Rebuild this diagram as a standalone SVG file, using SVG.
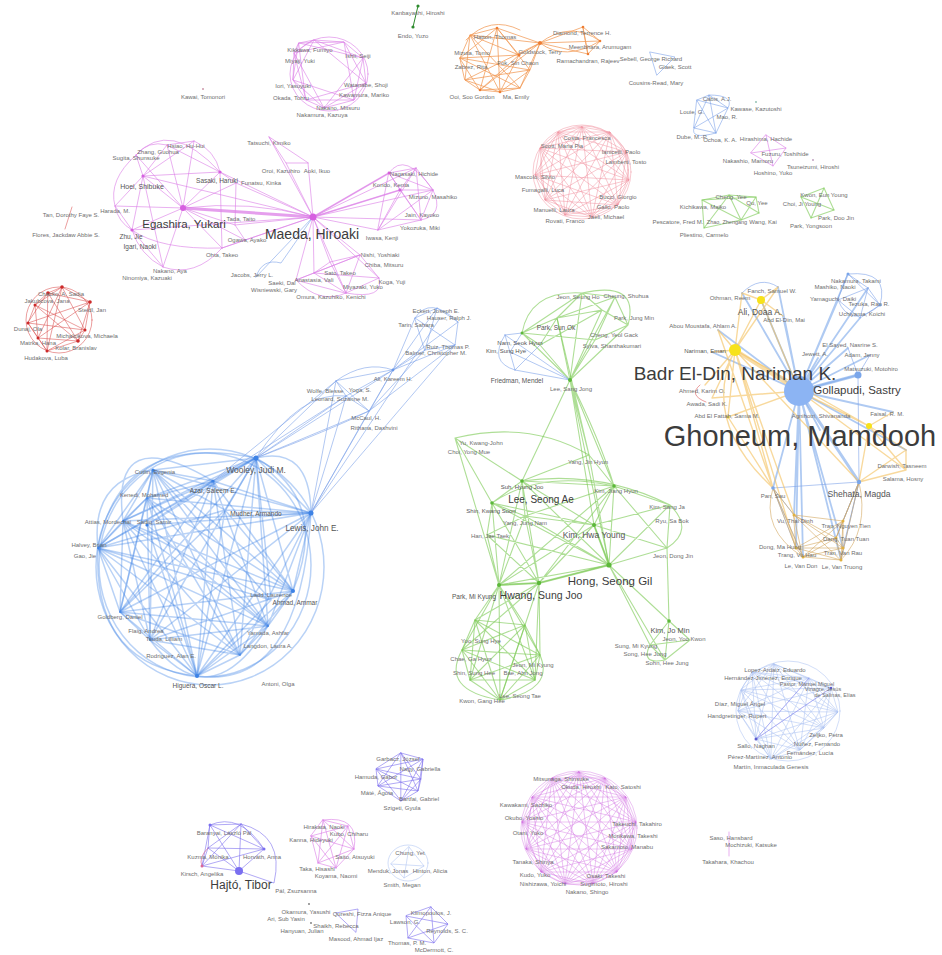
<svg xmlns="http://www.w3.org/2000/svg" width="942" height="955" viewBox="0 0 942 955">
<style>
.e{fill:none;stroke-linecap:round;stroke-linejoin:round}
.pk{stroke:#dc7fe7;stroke-opacity:.62;stroke-width:1}
.bl{stroke:#3d82e5;stroke-opacity:.36;stroke-width:1.5}
.lb{stroke:#7fa3ea;stroke-opacity:.6;stroke-width:1}
.xb{stroke:#aec3f3;stroke-opacity:.7;stroke-width:.8}
.gr{stroke:#78c850;stroke-opacity:.6;stroke-width:1.1}
.dg{stroke:#2e8b2e;stroke-width:1}
.or{stroke:#f29a55;stroke-opacity:.75;stroke-width:1}
.rd{stroke:#d94a4a;stroke-opacity:.6;stroke-width:.9}
.sa{stroke:#f0909f;stroke-opacity:.55;stroke-width:.9}
.pu{stroke:#7d70ee;stroke-opacity:.6;stroke-width:1}
.vi{stroke:#cf6ee2;stroke-opacity:.45;stroke-width:.9}
.ye{stroke:#f3c05c;stroke-opacity:.6;stroke-width:1.4}
.br{stroke:#d4a860;stroke-opacity:.6;stroke-width:1}
.gb{stroke:#7aa6ea;stroke-opacity:.6;stroke-width:1.8}
text{font-family:"Liberation Sans",Arial,sans-serif;text-anchor:middle;fill:#6e6e6e;font-size:6px}
.m{fill:#555}
.b{fill:#3c3c3c}
</style>
<rect width="942" height="955" fill="#fff"/>
<g id="edges">
<line class="e dg" x1="418" y1="6" x2="413" y2="27"/>
<polygon class="e or" points="460,58 470,35 497,28 540,43 530,70 520,88 500,92 480,90 465,80"/>
<polygon class="e or" points="460,58 497,28 530,70 500,92 465,80 470,35 540,43 520,88 480,90"/>
<polygon class="e or" points="460,58 530,70 465,80 540,43 480,90 497,28 500,92 470,35 520,88"/>
<path class="e or" d="M519,55 L460,58 M519,55 L470,35 M519,55 L497,28 M519,55 L540,43 M519,55 L500,92 M519,55 L480,90 M540,43 L583,27 M540,43 L600,41 M540,43 L588,54 M583,27 L600,41 L588,54 Z M583,27 L588,54 M540,43 Q570,20 600,41 M540,43 Q565,62 600,41 M466,40 Q490,15 520,30"/>
<polygon class="e lb" points="650,52 675,57 657,75"/>
<polygon class="e pk" points="299,43 314,40 344,42 363,58 366,83 354,100 324,108 306,100 293,80 294,53"/>
<polygon class="e pk" points="299,43 363,58 324,108 294,53 344,42 354,100 293,80 314,40 366,83 306,100"/>
<polygon class="e pk" points="299,43 344,42 366,83 324,108 293,80"/>
<polygon class="e pk" points="314,40 363,58 354,100 306,100 294,53"/>
<ellipse class="e pk" cx="329" cy="74" rx="39" ry="37"/>
<polygon class="e rd" points="48,293 62,287 90,302 85,330 78,341 47,351 38,338 28,323 35,305"/>
<polygon class="e rd" points="48,293 90,302 78,341 38,338 35,305 62,287 85,330 47,351 28,323"/>
<polygon class="e rd" points="48,293 78,341 35,305 85,330 28,323 90,302 38,338 62,287 47,351"/>
<ellipse class="e rd" cx="59" cy="320" rx="33" ry="33"/>
<line class="e rd" x1="72" y1="207" x2="65" y2="229"/>
<polygon class="e sa" points="582,127 610,132 627,152 629,180 618,205 592,217 565,215 545,200 535,175 540,148 558,132"/>
<polygon class="e sa" points="582,127 627,152 618,205 565,215 535,175 558,132 610,132 629,180 592,217 545,200 540,148"/>
<polygon class="e sa" points="582,127 629,180 565,215 540,148 610,132 618,205 545,200 558,132 627,152 592,217 535,175"/>
<polygon class="e sa" points="582,127 618,205 535,175 610,132 592,217 540,148 627,152 565,215 558,132 629,180 545,200"/>
<polygon class="e sa" points="582,127 592,217 558,132 618,205 540,148 629,180 535,175 627,152 545,200 610,132 565,215"/>
<ellipse class="e sa" cx="582" cy="172" rx="49" ry="47"/>
<ellipse class="e sa" cx="584" cy="170" rx="44" ry="44"/>
<polygon class="e lb" points="697,100 709,95 728,108 716,133 694,128"/>
<polygon class="e lb" points="697,100 728,108 694,128 709,95 716,133"/>
<path class="e lb" d="M709,95 Q735,95 728,108 M694,128 Q690,140 716,133"/>
<polygon class="e pk" points="766,135 786,148 773,166 751,153"/>
<path class="e pk" d="M766,135 L773,166 M751,153 L786,148"/>
<polygon class="e gr" points="702,200 729,195 756,197 759,213 741,220 704,228"/>
<path class="e gr" d="M729,195 L741,220 M756,197 L741,220 M729,195 L759,213 M702,200 L741,220 M704,228 L729,195 M702,200 L756,197"/>
<polygon class="e gr" points="801,197 824,188 834,210 811,218"/>
<path class="e gr" d="M801,197 L834,210 M824,188 L811,218"/>
<path class="e pk" d="M183,208 L143,176 M183,208 L167,145 M183,208 L136,155 M183,208 L220,172 M183,208 L236,183 M183,208 L115,206 M183,208 L132,230 M183,208 L163,267 M183,208 L222,248 M183,208 L235,225 M183,208 L245,240 M183,208 L194,141"/>
<path class="e pk" d="M136,155 Q148,140 167,145 L194,141 Q215,150 220,172 L236,183 M136,155 Q108,180 115,206 Q118,222 132,230 Q140,255 163,267 Q195,278 222,248 L245,240 L235,225 L236,183 M143,176 L167,145 M143,176 L220,172 M143,176 L115,206 M143,176 L132,230 M167,145 L220,172 M136,155 L143,176 M220,172 L222,248 M132,230 L163,267 M143,176 L163,267 M115,206 L132,230 M194,141 L143,176 M132,230 Q160,250 222,248 M136,155 Q170,118 220,172"/>
<path class="e pk" style="stroke-width:3;stroke-opacity:.75" d="M183,208 L313,217"/>
<path class="e pk" d="M220,172 L313,217 M236,183 L313,217 M235,225 L313,217 M245,240 L313,217 M222,248 L313,217 M143,176 L313,217 M183,208 Q250,200 313,217 M132,230 L313,217"/>
<path class="e pk" d="M269,137 L286,163 L308,163 Z M308,163 L313,217 M286,163 L313,217 M269,137 L313,217"/>
<path class="e pk" d="M313,217 L389,173 M313,217 L416,168 M313,217 L433,190 M313,217 L421,220 M313,217 L378,230 M313,217 L400,190 M313,217 L314,273 M313,217 L346,293 M313,217 L379,278 M313,217 L360,255 M313,217 L296,280 M313,217 L330,262"/>
<path class="e pk" style="stroke-width:1.8" d="M313,217 L400,190 M313,217 L389,173"/>
<path class="e pk" d="M389,173 L416,168 L433,190 L421,220 L378,230 Z M389,173 L433,190 M389,173 L421,220 M416,168 L421,220 M416,168 L378,230 M433,190 L378,230 M400,190 L389,173 M400,190 L416,168 M400,190 L433,190 M400,190 L421,220 M400,190 L378,230 M389,173 Q405,150 433,190 M433,190 Q445,215 421,220"/>
<path class="e pk" d="M296,280 L314,273 L330,262 L360,255 L379,278 L346,293 Z M314,273 L346,293 M314,273 L379,278 M330,262 L346,293 M360,255 L346,293 M296,280 L360,255 M296,280 Q320,305 346,293 M379,278 Q385,300 346,293 M360,255 L314,273"/>
<path class="e lb" d="M256,277 Q262,258 281,263 L313,217 M256,277 L313,217"/>
<polygon class="e bl" points="256,458 311,513 293,591 268,626 240,655 197,676 150,640 120,612 98,548 123,521 147,498 153,470 213,481"/>
<polygon class="e bl" points="256,458 293,591 240,655 150,640 98,548 147,498 213,481 311,513 268,626 197,676 120,612 123,521 153,470"/>
<polygon class="e bl" points="256,458 268,626 150,640 123,521 213,481 293,591 197,676 98,548 153,470 311,513 240,655 120,612 147,498"/>
<polygon class="e bl" points="256,458 240,655 98,548 213,481 268,626 120,612 153,470 293,591 150,640 147,498 311,513 197,676 123,521"/>
<polygon class="e bl" points="256,458 197,676 147,498 293,591 120,612 213,481 240,655 123,521 311,513 150,640 153,470 268,626 98,548"/>
<polygon class="e bl" points="256,458 150,640 213,481 197,676 153,470 240,655 147,498 268,626 123,521 293,591 98,548 311,513 120,612"/>
<path class="e bl" d="M225,510 L256,458 M225,510 L311,513 M225,510 L293,591 M225,510 L197,676 M225,510 L120,612 M225,510 L153,470 M225,510 L98,548 M147,525 L256,458 M147,525 L311,513 M147,525 L268,626 M147,525 L197,676 M147,525 L213,481 M271,600 L256,458 M271,600 L153,470 M271,600 L98,548 M271,600 L197,676 M271,600 L123,521"/>
<path class="e bl" d="M256,458 Q120,430 98,548 M98,548 Q92,665 197,676 M197,676 Q300,690 311,513 M311,513 Q310,445 256,458 M153,470 Q90,480 98,548 M256,458 Q330,500 293,591 M150,640 Q210,720 268,626 M213,481 Q110,420 123,521"/>
<ellipse class="e bl" cx="210" cy="567" rx="114" ry="118"/>
<ellipse class="e bl" cx="205" cy="565" rx="106" ry="112"/>
<path class="e lb" d="M256,458 L336,381 M256,458 L346,396 M256,458 L369,411 M256,458 L393,370 M311,513 L336,381 M311,513 L369,411 M311,513 L393,370 M311,513 L440,318 M311,513 L455,345 M213,481 L336,381 M213,481 L346,396 M256,458 Q300,390 346,396 M336,381 L346,396 L369,411 L393,370 Z M346,396 L393,370 M336,381 L369,411 M336,381 Q365,360 393,370 M393,370 L415,318 M393,370 L437,308 M393,370 L458,322 M393,370 L455,345 M393,370 L425,350 M369,411 L425,350 M369,411 L455,345 M415,318 L437,308 L458,322 L455,345 L425,350 Z M415,318 L455,345 M437,308 L425,350 M415,318 Q430,295 458,322 M256,458 Q330,430 369,411 M311,513 Q340,420 346,396"/>
<path class="e gr" d="M570,380 L522,333 M570,380 L557,318 M570,380 L582,293 M570,380 L615,297 M570,380 L602,310 M570,380 L628,325 M570,380 L540,345 M570,380 L595,340 M522,333 L557,318 L582,293 L615,297 L628,325 L602,310 L582,293 M522,333 L582,293 M557,318 L615,297 M540,345 L557,318 M595,340 L615,297 M595,340 L628,325 M522,333 L540,345 M557,318 L602,310 M522,333 Q530,290 582,293 M582,293 Q640,280 628,325 M540,345 L602,310 M522,333 L595,340"/>
<path class="e lb" d="M505,335 L570,380 M510,352 L570,380 M515,370 L570,380 M505,335 L515,370 M505,335 Q488,362 515,370 M510,352 L522,333 M505,335 L522,333 M515,370 L540,345"/>
<path class="e gr" d="M570,380 L589,455 M570,380 L614,486 M570,380 L609,565 M570,380 L522,481 M557,318 L589,455 M570,380 L594,525 M570,380 Q600,440 614,486"/>
<path class="e gr" d="M609,565 L522,481 M609,565 L492,503 M609,565 L525,516 M609,565 L594,525 M609,565 L614,486 M609,565 L539,583 M609,565 L499,585 M609,565 L670,505 M609,565 L667,548 M609,565 L487,535 M609,565 L669,621 M609,565 L589,455 M594,525 L522,481 M594,525 L492,503 M594,525 L525,516 M594,525 L614,486 M594,525 L539,583 M594,525 L499,585 M594,525 L670,505 M594,525 L667,548 M522,481 L492,503 M522,481 L525,516 M522,481 L614,486 M522,481 L539,583 M522,481 L499,585 M522,481 L589,455 M522,481 L455,438 M492,503 L525,516 M492,503 L499,585 M492,503 L455,438 M492,503 L487,535 M492,503 L539,583 M525,516 L539,583 M525,516 L499,585 M525,516 L487,535 M525,516 L614,486 M614,486 L670,505 M614,486 L667,548 M614,486 L589,455 M539,583 L499,585 M539,583 L487,535 M499,585 L487,535 M499,585 L455,438 M670,505 L667,548 M455,438 Q530,420 589,455 M522,481 Q600,470 670,505 M670,505 Q695,530 667,548 M492,503 Q540,470 614,486 M499,585 L614,486 M539,583 L614,486"/>
<path class="e gr" style="stroke-width:2" d="M609,565 L539,583 L499,585 M594,525 L609,565"/>
<polygon class="e gr" points="475,620 462,650 470,680 500,700 535,680 540,655 525,625"/>
<polygon class="e gr" points="475,620 470,680 535,680 525,625 462,650 500,700 540,655"/>
<polygon class="e gr" points="475,620 500,700 525,625 470,680 540,655 462,650 535,680"/>
<path class="e gr" d="M499,585 L475,620 M499,585 L462,650 M499,585 L470,680 M499,585 L500,700 M499,585 L535,680 M499,585 L540,655 M499,585 L525,625 M539,583 L475,620 M539,583 L462,650 M539,583 L500,700 M539,583 L540,655 M539,583 L525,625 M539,583 L535,680 M462,650 Q440,690 500,700 M540,655 Q555,690 500,700"/>
<path class="e gr" d="M669,621 L650,645 L665,660 L690,640 Z M669,621 L665,660 M650,645 L690,640 M609,565 L650,645 M609,565 L665,660 M667,548 L669,621 M650,645 Q640,665 665,660"/>
<path class="e gb" d="M799,391 L858,375 M799,391 L848,274 M799,391 L868,288 M799,391 L860,318 M799,391 L838,300 M799,391 L848,348 M799,391 L870,355 M799,391 L773,488 M799,391 L794,515 M799,391 L796,548 M799,391 L843,548 M799,391 L841,560 M799,391 L761,300 M799,391 L783,316 M799,391 L818,358 M799,391 L893,412 M799,391 L820,430 M799,391 L718,330 M799,391 L712,352 M799,391 L742,293 M799,391 L778,287 M799,391 L906,450 M799,391 L803,557"/>
<path class="e gb" style="stroke-width:3" d="M799,391 L859,482 M799,391 L858,375"/>
<path class="e lb" d="M848,274 L868,288 L880,305 L860,318 L838,300 Z M848,274 L880,305 M868,288 L860,318 M838,300 L868,288 M848,274 Q890,270 880,305 M838,300 Q850,330 880,305 M742,293 Q760,275 778,287 M859,482 L773,488 M859,482 L843,521 M859,482 L836,538 M859,482 L843,548 M859,482 L841,560 M773,488 L794,515 M773,488 L796,548 M773,488 L803,557 M858,375 L859,482 M858,375 L848,348 M858,375 L870,355"/>
<path class="e ye" style="stroke-width:4;stroke-opacity:.55" d="M735,350 L799,391"/>
<path class="e ye" d="M735,350 L761,300 M735,350 L742,293 M735,350 L778,287 M735,350 L718,330 M735,350 L712,352 M735,350 L705,385 M735,350 L712,398 M735,350 L728,417 M735,350 L773,488 M735,350 L794,515 M735,350 L796,548 M735,350 L859,482 M735,350 L869,426 M761,300 L742,293 M761,300 L778,287 M761,300 L783,316 M761,300 L799,391 M869,426 L799,391 M869,426 L906,450 M869,426 L906,470 M869,426 L859,482 M893,412 L869,426 M906,450 L906,470 M799,391 L906,470 M728,417 L773,488 M718,330 L773,488 M799,391 L728,417 M712,398 L799,391 M735,350 Q700,420 773,488 M859,482 L906,470 M859,482 L906,450"/>
<polygon class="e br" points="794,515 843,521 836,538 843,548 841,560 803,557 796,548"/>
<polygon class="e br" points="794,515 836,538 841,560 796,548 843,521 843,548 803,557"/>
<polygon class="e br" points="794,515 843,548 796,548 836,538 803,557 843,521 841,560"/>
<path class="e br" d="M773,488 L794,515 M773,488 L796,548 M773,488 L803,557 M859,482 L843,521 M859,482 L836,538 M859,482 L841,560 M773,488 Q760,530 803,557 M859,482 Q870,530 841,560"/>
<path class="e rd" d="M700,385 Q688,395 706,402"/>
<polygon class="e pu" points="210,825 241,824 264,849 239,871 202,866 208,848"/>
<path class="e pu" d="M210,825 L264,849 M210,825 L239,871 M210,825 L202,866 M241,824 L239,871 M241,824 L202,866 M241,824 L208,848 M264,849 L202,866 M264,849 L208,848 M239,871 L208,848 M241,824 Q285,835 274,883 L239,871 M210,825 Q240,812 264,849"/>
<path class="e" style="stroke:#d9679a;stroke-opacity:.7" d="M208,848 Q198,858 202,866"/>
<polygon class="e pk" points="323,820 348,826 354,849 336,868 318,863 311,836"/>
<path class="e pk" d="M323,820 L354,849 M323,820 L336,868 M323,820 L318,863 M348,826 L336,868 M348,826 L318,863 M348,826 L311,836 M354,849 L318,863 M354,849 L311,836 M336,868 L311,836 M323,820 Q360,815 354,849"/>
<polygon class="e pu" points="401,753 423,759 421,779 418,791 401,801 378,786 376,769"/>
<polygon class="e pu" points="401,753 421,779 401,801 376,769 423,759 418,791 378,786"/>
<polygon class="e pu" points="401,753 418,791 376,769 421,779 378,786 423,759 401,801"/>
<polygon class="e xb" points="409,847 424,866 404,878 391,864"/>
<path class="e xb" d="M409,847 L404,878 M391,864 L424,866"/>
<ellipse class="e xb" cx="408" cy="863" rx="20" ry="18"/>
<polygon class="e pu" points="336,913 358,909 356,932"/>
<polygon class="e pu" points="431,907 448,924 434,943 408,938 406,916"/>
<polygon class="e pu" points="431,907 434,943 406,916 448,924 408,938"/>
<polygon class="e vi" points="579,772 605,778 626,797 636,822 632,849 617,872 593,884 565,884 541,872 526,849 522,822 532,797 552,778"/>
<polygon class="e vi" points="579,772 626,797 632,849 593,884 541,872 522,822 552,778 605,778 636,822 617,872 565,884 526,849 532,797"/>
<polygon class="e vi" points="579,772 636,822 593,884 526,849 552,778 626,797 617,872 541,872 532,797 605,778 632,849 565,884 522,822"/>
<polygon class="e vi" points="579,772 632,849 541,872 552,778 636,822 565,884 532,797 626,797 593,884 522,822 605,778 617,872 526,849"/>
<polygon class="e vi" points="579,772 617,872 522,822 626,797 565,884 552,778 632,849 526,849 605,778 593,884 532,797 636,822 541,872"/>
<polygon class="e vi" points="579,772 593,884 552,778 617,872 532,797 632,849 522,822 636,822 526,849 626,797 541,872 605,778 565,884"/>
<ellipse class="e vi" cx="579" cy="828" rx="58" ry="57"/>
<ellipse class="e vi" cx="580" cy="829" rx="53" ry="53"/>
<polygon class="e xb" points="774,664 809,678 831,688 838,712 824,728 800,750 771,759 756,739 738,711 741,690 752,672"/>
<polygon class="e xb" points="774,664 831,688 824,728 771,759 738,711 752,672 809,678 838,712 800,750 756,739 741,690"/>
<polygon class="e xb" points="774,664 838,712 771,759 741,690 809,678 824,728 756,739 752,672 831,688 800,750 738,711"/>
<polygon class="e xb" points="774,664 824,728 738,711 809,678 800,750 741,690 831,688 771,759 752,672 838,712 756,739"/>
<polygon class="e xb" points="774,664 800,750 752,672 824,728 741,690 838,712 738,711 831,688 756,739 809,678 771,759"/>
<ellipse class="e xb" cx="788" cy="711" rx="52" ry="50"/>
<path class="e pu" style="stroke-opacity:.45" d="M756,739 L831,688 M756,739 L809,678"/>
<line class="e pk" x1="729" y1="832" x2="729" y2="856"/>
</g>
<g id="nodes">
<g id="c-kanbayashi"><circle cx="418" cy="6" r="1.6" fill="#2e8b2e"/><circle cx="413" cy="27" r="1.6" fill="#2e8b2e"/>
<g id="n-kanbayashi"><text x="418" y="15">Kanbayashi, Hiroshi</text></g><g id="n-endo"><text x="413" y="38">Endo, Yuzo</text></g></g>
<g id="c-orange" fill="#ee7d33">
<circle cx="540" cy="43" r="2"/><circle cx="519" cy="55" r="1.5"/><circle cx="583" cy="27" r="1.3"/><circle cx="600" cy="41" r="1.3"/><circle cx="588" cy="54" r="1.3"/><circle cx="497" cy="28" r="1.3"/><circle cx="480" cy="90" r="1.3"/><circle cx="500" cy="92" r="1.3"/>
<g id="n-o1"><text x="495" y="39">Hatton, Thomas</text></g><g id="n-o2"><text x="472" y="55">Mizuta, Tomo</text></g><g id="n-o3"><text x="471" y="69">Zabrez, Rita</text></g><g id="n-o4"><text x="540" y="54">Goldstock, Terry</text></g><g id="n-o5"><text x="518" y="65">Fok, Sin Chaon</text></g><g id="n-o6"><text x="472" y="99">Ooi, Soo Gordon</text></g><g id="n-o7"><text x="516" y="99">Ma, Emily</text></g><g id="n-o8"><text x="582" y="35">Diamond, Terrence H.</text></g><g id="n-o9"><text x="600" y="49">Meenbhara, Arumugam</text></g><g id="n-o10"><text x="588" y="63">Ramachandran, Rajeev</text></g>
</g>
<g id="c-sebell"><g id="n-se1"><text x="651" y="61">Sebell, George Richard</text></g><g id="n-se2"><text x="675" y="69">Glaek, Scott</text></g><g id="n-se3"><text x="656" y="85">Cousins-Read, Mary</text></g></g>
<g id="c-pinktop"><g id="n-p1"><text x="310" y="52">Kikkawa, Fumiyo</text></g><g id="n-p2"><text x="358" y="58">Ishii, Seiji</text></g><g id="n-p3"><text x="300" y="63">Miyaji, Yuki</text></g><g id="n-p4"><text x="293" y="88">Iori, Yasuyuki</text></g><g id="n-p5"><text x="291" y="100">Okada, Tohru</text></g><g id="n-p6"><text x="366" y="87">Watanabe, Shoji</text></g><g id="n-p7"><text x="364" y="97">Kawamura, Mariko</text></g><g id="n-p8"><text x="322" y="117">Nakamura, Kazuya</text></g><g id="n-p9"><text x="338" y="110">Nakano, Mitsuru</text></g></g>
<g id="n-kawai"><circle cx="203" cy="89" r="1" fill="#c9a"/><text x="203" y="99">Kawai, Tomonori</text></g>
<g id="c-egashira">
<circle cx="183" cy="208" r="3" fill="#d660e0"/><circle cx="313" cy="217" r="3.5" fill="#d660e0"/><circle cx="143" cy="176" r="1.6" fill="#d660e0"/><circle cx="220" cy="172" r="1.6" fill="#d660e0"/><circle cx="132" cy="230" r="1.6" fill="#d660e0"/><circle cx="400" cy="190" r="1.6" fill="#d660e0"/><circle cx="389" cy="173" r="1.4" fill="#d660e0"/>
<g id="n-egashira"><text class="b" x="184" y="228" style="font-size:11.5px">Egashira, Yukari</text></g>
<g id="n-maeda"><text class="b" x="312" y="239" style="font-size:14px">Maeda, Hiroaki</text></g>
<g id="n-e1"><text class="m" x="142" y="189" style="font-size:7px">Hoei, Shibuke</text></g><g id="n-e2"><text x="136" y="160">Sugita, Shunsuke</text></g><g id="n-e3"><text x="158" y="154">Zhang, Guohua</text></g><g id="n-e4"><text x="186" y="148">Hsiao, Hu-Hui</text></g><g id="n-e5"><text class="m" x="217" y="183" style="font-size:6.5px">Sasaki, Haruki</text></g><g id="n-e6"><text x="261" y="185">Funatsu, Kinka</text></g><g id="n-e7"><text x="115" y="213">Harada, M.</text></g><g id="n-e8"><text class="m" x="131" y="239" style="font-size:6.5px">Zhu, Jie</text></g><g id="n-e9"><text class="m" x="140" y="249" style="font-size:6.5px">Igari, Naoki</text></g><g id="n-e10"><text x="222" y="257">Ohta, Takeo</text></g><g id="n-e11"><text x="147" y="280">Ninomiya, Kazuaki</text></g><g id="n-e12"><text x="170" y="273">Nakano, Aya</text></g><g id="n-e13"><text x="241" y="221">Tada, Taito</text></g><g id="n-e14"><text x="247" y="242">Ogawa, Ayako</text></g>
<g id="n-m1"><text x="269" y="145">Tatsuchi, Kimiko</text></g><g id="n-m2"><text x="281" y="173">Oroi, Kazuhiro</text></g><g id="n-m3"><text x="317" y="173">Aoki, Ikuo</text></g><g id="n-m4"><text x="414" y="176">Nagasaki, Hichide</text></g><g id="n-m5"><text x="391" y="187">Kondo, Kenta</text></g><g id="n-m6"><text x="433" y="199">Mizuno, Masahiko</text></g><g id="n-m7"><text x="422" y="217">Jain, Kayoko</text></g><g id="n-m8"><text x="420" y="230">Yokozuka, Miki</text></g><g id="n-m9"><text x="382" y="240">Iwasa, Kenji</text></g><g id="n-m10"><text x="380" y="257">Nishi, Yoshiaki</text></g><g id="n-m11"><text x="384" y="267">Chiba, Mitsuru</text></g><g id="n-m12"><text x="392" y="284">Koga, Yuji</text></g><g id="n-m13"><text x="363" y="289">Miyazaki, Yuko</text></g><g id="n-m14"><text x="340" y="275">Sato, Takeo</text></g><g id="n-m15"><text x="314" y="282">Anastasia, Vali</text></g><g id="n-m16"><text x="282" y="285">Saeki, Dai</text></g><g id="n-m17"><text x="252" y="277">Jacobs, Jerry L.</text></g><g id="n-m18"><text x="274" y="292">Wisniewski, Gary</text></g><g id="n-m19"><text x="331" y="299">Omura, Kazuhiko, Kenichi</text></g>
<g id="n-tan"><text x="71" y="217">Tan, Dorothy Faye S.</text></g><g id="n-flores"><text x="66" y="237">Flores, Jackdaw Abbie S.</text></g>
</g>
<g id="c-red" fill="#cc2a2a">
<circle cx="48" cy="293" r="1.8"/><circle cx="62" cy="287" r="1.8"/><circle cx="90" cy="302" r="1.8"/><circle cx="85" cy="330" r="1.5"/><circle cx="78" cy="341" r="1.8"/><circle cx="47" cy="351" r="1.5"/><circle cx="38" cy="338" r="1.5"/><circle cx="28" cy="323" r="1.5"/><circle cx="35" cy="305" r="1.5"/>
<g id="n-r1"><text x="61" y="296">Chacko, A. Sadia</text></g><g id="n-r2"><text x="47" y="303">Jakubcova, Jana</text></g><g id="n-r3"><text x="92" y="312">Steidl, Jan</text></g><g id="n-r4"><text x="28" y="331">Dunaj, Ola</text></g><g id="n-r5"><text x="38" y="345">Matrka, Hana</text></g><g id="n-r6"><text x="87" y="338">Michalcikova, Michaela</text></g><g id="n-r7"><text x="76" y="350">Kolar, Branislav</text></g><g id="n-r8"><text x="46" y="360">Hudakova, Luba</text></g>
</g>
<g id="c-salmon"><g id="n-s1"><text x="562" y="148">Scott, Maria Pia</text></g><g id="n-s2"><text x="587" y="140">Costa, Francesca</text></g><g id="n-s3"><text x="621" y="154">Ianicelli, Paolo</text></g><g id="n-s4"><text x="626" y="164">Lamberti, Tosto</text></g><g id="n-s5"><text x="535" y="179">Mascolo, Silvio</text></g><g id="n-s6"><text x="543" y="192">Fumagalli, Luca</text></g><g id="n-s7"><text x="554" y="212">Manuelli, Laura</text></g><g id="n-s8"><text x="565" y="223">Rovati, Franco</text></g><g id="n-s9"><text x="618" y="199">Bucci, Giorgio</text></g><g id="n-s10"><text x="613" y="209">Gallo, Paolo</text></g><g id="n-s11"><text x="606" y="219">Jaeli, Michael</text></g></g>
<g id="c-louie"><g id="n-l1"><text x="717" y="101">Cabis, A.J.</text></g><g id="n-l2"><text x="756" y="111">Kawase, Kazutoshi</text></g><g id="n-l3"><text x="692" y="114">Louie, G.</text></g><g id="n-l4"><text x="727" y="119">Mao, R.</text></g><g id="n-l5"><text x="692" y="139">Dube, M.-P.</text></g><g id="n-l6"><text x="720" y="142">Ochoa, K. A.</text></g><circle cx="756" cy="102" r="0.9" fill="#8ba"/></g>
<g id="c-hirashima"><g id="n-h1"><text x="766" y="141">Hirashima, Hachide</text></g><g id="n-h2"><text x="785" y="156">Fuzuru, Toshihide</text></g><g id="n-h3"><text x="748" y="163">Nakashio, Mamoru</text></g><g id="n-h4"><text x="813" y="169">Tsuneizumi, Hiroshi</text></g><g id="n-h5"><text x="773" y="175">Hoshino, Yuko</text></g><circle cx="813" cy="160" r="0.9" fill="#b9b"/></g>
<g id="c-green-small"><g id="n-g1"><text x="731" y="199">Cheng, Yee</text></g><g id="n-g2"><text x="757" y="205">Qu, Yee</text></g><g id="n-g3"><text x="703" y="209">Kichikawa, Maiko</text></g><g id="n-g4"><text x="678" y="224">Pescatore, Fred M.</text></g><g id="n-g5"><text x="727" y="224" style="font-size:5.5px">Zhao, Zhengang</text></g><g id="n-g6"><text x="763" y="224">Wang, Kai</text></g><g id="n-g7"><text x="704" y="237">Pliestino, Carmelo</text></g>
<g id="n-g8"><text x="824" y="197">Kwon, Eun Young</text></g><g id="n-g9"><text x="802" y="206">Choi, Ji Young</text></g><g id="n-g10"><text x="836" y="220">Park, Doo Jin</text></g><g id="n-g11"><text x="811" y="228">Park, Yongsoon</text></g></g>
<g id="c-blue">
<circle cx="256" cy="458" r="2.5" fill="#3d82e5"/><circle cx="311" cy="513" r="2.5" fill="#3d82e5"/><circle cx="293" cy="591" r="2" fill="#3d82e5"/><circle cx="197" cy="676" r="2" fill="#3d82e5"/><circle cx="153" cy="470" r="1.6" fill="#3d82e5"/><circle cx="213" cy="481" r="1.6" fill="#3d82e5"/><circle cx="147" cy="525" r="1.6" fill="#3d82e5"/><circle cx="393" cy="370" r="1.4" fill="#6a98e8"/>
<g id="n-wooley"><text class="m" x="256" y="473" style="font-size:8.5px">Wooley, Judi M.</text></g>
<g id="n-lewis"><text class="m" x="312" y="531" style="font-size:8.2px">Lewis, John E.</text></g>
<g id="n-b1"><text x="155" y="474">Cutlin, Evgenia</text></g><g id="n-b2"><text x="144" y="497">Kenedi, Mohamed</text></g><g id="n-b3"><text class="m" x="213" y="493" style="font-size:6.5px">Azar, Saleem E.</text></g><g id="n-b4"><text x="108" y="524">Attias, Mordechai</text></g><g id="n-b5"><text x="154" y="524">Sadiq, Samir</text></g><g id="n-b6"><text class="m" x="256" y="516" style="font-size:6.5px">Mudher, Armando</text></g><g id="n-b7"><text x="89" y="547">Halvey, Brian</text></g><g id="n-b8"><text x="85" y="558">Gao, Jie</text></g><g id="n-b9"><text x="120" y="619">Goldberg, Daniel</text></g><g id="n-b10"><text x="146" y="633">Flaig, Andrea</text></g><g id="n-b11"><text x="164" y="641">Tsuda, Lilliam</text></g><g id="n-b12"><text x="171" y="658">Rodriguez, Alan E.</text></g><g id="n-b13"><text class="m" x="198" y="688" style="font-size:6.5px">Higuera, Oscar L.</text></g><g id="n-b14"><text x="271" y="597">Ladd, Laurence</text></g><g id="n-b15"><text class="m" x="295" y="605" style="font-size:6.5px">Ahmad, Ammar</text></g><g id="n-b16"><text x="268" y="635">Yamada, Ashfar</text></g><g id="n-b17"><text x="268" y="648">Langdon, Laura A.</text></g><g id="n-b18"><text x="278" y="686">Antoni, Olga</text></g>
<g id="n-b19"><text x="393" y="381">Ali, Kareem H.</text></g><g id="n-b20"><text x="325" y="393">Wolfe, Blesse</text></g><g id="n-b21"><text x="360" y="392">Yoga, S.</text></g><g id="n-b22"><text x="340" y="401">Leonard, Suzanne M.</text></g><g id="n-b23"><text x="366" y="420">McCaul, H.</text></g><g id="n-b24"><text x="374" y="430">Rithana, Dashvini</text></g><g id="n-b25"><text x="436" y="313">Eckert, Joseph E.</text></g><g id="n-b26"><text x="449" y="320">Hauser, Ralph J.</text></g><g id="n-b27"><text x="416" y="327">Tarin, Sahara</text></g><g id="n-b28"><text x="448" y="349">Ruiz, Thomas P.</text></g><g id="n-b29"><text x="436" y="355">Balmer, Christopher M.</text></g>
</g>
<g id="c-green">
<circle cx="570" cy="380" r="2" fill="#5cb83a"/><circle cx="609" cy="565" r="2.6" fill="#5cb83a"/><circle cx="594" cy="525" r="2" fill="#5cb83a"/><circle cx="539" cy="583" r="2.2" fill="#5cb83a"/><circle cx="499" cy="585" r="2" fill="#5cb83a"/><circle cx="522" cy="481" r="1.8" fill="#5cb83a"/><circle cx="492" cy="503" r="1.8" fill="#5cb83a"/><circle cx="614" cy="486" r="1.8" fill="#5cb83a"/><circle cx="669" cy="621" r="1.8" fill="#5cb83a"/><circle cx="522" cy="333" r="1.5" fill="#5cb83a"/>
<g id="n-gr1"><text x="578" y="299">Jeon, Seung Ho</text></g><g id="n-gr2"><text x="626" y="298">Cheung, Shuhua</text></g><g id="n-gr3"><text x="634" y="320">Park, Jung Min</text></g><g id="n-gr4"><text class="m" x="556" y="330" style="font-size:6.5px">Park, Sun Ok</text></g><g id="n-gr5"><text x="614" y="337">Cheng, Yeol Gack</text></g><g id="n-gr6"><text class="m" x="520" y="345">Nam, Seok Hyun</text></g><g id="n-gr7"><text class="m" x="506" y="353">Kim, Sung Hye</text></g><g id="n-gr8"><text x="612" y="348">Sylva, Shanthakumari</text></g><g id="n-gr9"><text class="m" x="517" y="383" style="font-size:6.5px">Friedman, Mendel</text></g><g id="n-gr10"><text x="571" y="391">Lee, Sang Jong</text></g>
<g id="n-gr11"><text x="481" y="445">Yu, Kwang-John</text></g><g id="n-gr12"><text x="469" y="454">Choi, Yong Mue</text></g><g id="n-gr13"><text x="588" y="464">Yang, Jin Hyun</text></g><g id="n-gr14"><text class="m" x="522" y="489">Suh, Hyung Joo</text></g>
<g id="n-leeseongae"><text class="b" x="541" y="503" style="font-size:10px">Lee, Seong Ae</text></g>
<g id="n-gr15"><text x="616" y="493">Kim, Jiang Hyun</text></g><g id="n-gr16"><text class="m" x="491" y="513">Shin, Kwang Soon</text></g><g id="n-gr17"><text x="525" y="525">Yang, Jung Nam</text></g><g id="n-gr18"><text x="490" y="538">Han, Jae Taek</text></g>
<g id="n-kimhwayoung"><text class="m" x="594" y="538" style="font-size:8.5px">Kim, Hwa Young</text></g>
<g id="n-gr19"><text x="667" y="509">Kim, Sang Ja</text></g><g id="n-gr20"><text x="672" y="523">Ryu, Sa Bok</text></g><g id="n-gr21"><text x="673" y="558">Jeon, Dong Jin</text></g>
<g id="n-hongseonggil"><text class="b" x="610" y="585" style="font-size:11.5px">Hong, Seong Gil</text></g>
<g id="n-gr22"><text class="m" x="474" y="599" style="font-size:6.5px">Park, Mi Kyung</text></g>
<g id="n-hwangsungjoo"><text class="b" x="541" y="599" style="font-size:10.5px">Hwang, Sung Joo</text></g>
<g id="n-gr23"><text class="m" x="670" y="633" style="font-size:7.5px">Kim, Jo Min</text></g><g id="n-gr24"><text x="684" y="641">Jeon, Yoo Kwon</text></g><g id="n-gr25"><text x="636" y="648">Sung, Mi Kyung</text></g><g id="n-gr26"><text x="645" y="656">Song, Hee Jung</text></g><g id="n-gr27"><text x="667" y="665">Sohn, Hee Jung</text></g>
<g id="n-gr28"><text x="481" y="643">Yoo, Sung Hye</text></g><g id="n-gr29"><text x="471" y="661">Chae, Ga Hyun</text></g><g id="n-gr30"><text x="533" y="667">Jeon, Mi Kyung</text></g><g id="n-gr31"><text x="474" y="675">Shin, Sung Hee</text></g><g id="n-gr32"><text x="523" y="675">Bae, Ahn Jong</text></g><g id="n-gr33"><text x="520" y="698">Lee, Seong Tae</text></g><g id="n-gr34"><text x="482" y="703">Kwon, Gang Hee</text></g>
</g>
<g id="c-ghoneum">
<g id="n-ghoneum"><circle cx="799" cy="391" r="15" fill="#8cb4f3"/><text class="b" x="800" y="446" style="font-size:29px">Ghoneum, Mamdooh</text></g>
<g id="n-badr"><circle cx="735" cy="350" r="6" fill="#f7e21a"/><text class="b" x="735" y="380" style="font-size:19px">Badr El-Din, Nariman K.</text></g>
<g id="n-gollapudi"><circle cx="858" cy="375" r="3.5" fill="#7aa6ea"/><text class="b" x="857" y="394" style="font-size:11.5px">Gollapudi, Sastry</text></g>
<g id="n-ali"><circle cx="761" cy="300" r="4" fill="#f7e21a"/><text class="m" x="760" y="315" style="font-size:8.5px">Ali, Doaa A.</text></g>
<circle cx="869" cy="426" r="3" fill="#f7e21a"/><circle cx="859" cy="482" r="2.2" fill="#7aa6ea"/><circle cx="773" cy="488" r="1.8" fill="#7aa6ea"/><circle cx="728" cy="417" r="1.6" fill="#f3d040"/><circle cx="848" cy="274" r="1.5" fill="#7aa6ea"/><circle cx="880" cy="305" r="1.5" fill="#7aa6ea"/>
<g fill="#e0b040"><circle cx="794" cy="515" r="1.5"/><circle cx="843" cy="521" r="1.5"/><circle cx="836" cy="538" r="1.5"/><circle cx="843" cy="548" r="1.5"/><circle cx="841" cy="560" r="1.5"/><circle cx="803" cy="557" r="1.5"/><circle cx="796" cy="548" r="1.5"/></g>
<g id="n-gh1"><text x="730" y="300">Othman, Reem</text></g><g id="n-gh2"><text x="772" y="293">Fanch, Samuel W.</text></g><g id="n-gh3"><text x="784" y="322">Abd El-Din, Mai</text></g><g id="n-gh4"><text x="856" y="283">Nakamura, Takami</text></g><g id="n-gh5"><text x="835" y="289">Mashiko, Naoki</text></g><g id="n-gh6"><text x="833" y="301">Yamaguchi, Daiki</text></g><g id="n-gh7"><text x="869" y="306">Tezuka, Ran R.</text></g><g id="n-gh8"><text x="862" y="316">Uchiyama, Koichi</text></g><g id="n-gh9"><text x="703" y="328">Abou Moustafa, Ahlam A.</text></g><g id="n-gh10"><text class="m" x="705" y="353">Nariman, Eman</text></g><g id="n-gh11"><text x="702" y="393">Ahmed, Karim O.</text></g><g id="n-gh12"><text x="707" y="406">Awada, Sadi K.</text></g><g id="n-gh13"><text x="850" y="347">El Sayed, Nasrine S.</text></g><g id="n-gh14"><text x="815" y="356">Jewett, A.</text></g><g id="n-gh15"><text x="862" y="357">Adam, Jenny</text></g><g id="n-gh16"><text x="871" y="371">Matsuzuki, Motohiro</text></g><g id="n-gh17"><text x="887" y="416">Faisal, R. M.</text></g><g id="n-gh18"><text x="727" y="418">Abd El Fattah, Samia M.</text></g><g id="n-gh19"><text x="821" y="418">Agnihotri, Shivananda</text></g><g id="n-gh20"><text x="902" y="468">Darwish, Tasneem</text></g><g id="n-gh21"><text x="903" y="481">Salama, Hosny</text></g>
<g id="n-shehata"><text class="m" x="859" y="497" style="font-size:8.6px">Shehata, Magda</text></g>
<g id="n-gh22"><text x="773" y="498">Pan, Sau</text></g><g id="n-gh23"><text x="795" y="523">Vu, Thai Dinh</text></g><g id="n-gh24"><text x="846" y="528">Tran, Nguyen Tien</text></g><g id="n-gh25"><text x="846" y="541">Dang, Tuan Tuan</text></g><g id="n-gh26"><text x="780" y="549">Dong, Ma Hung</text></g><g id="n-gh27"><text x="843" y="555">Tran, Van Rau</text></g><g id="n-gh28"><text x="797" y="557">Trang, Vu Hau</text></g><g id="n-gh29"><text x="801" y="568">Le, Van Don</text></g><g id="n-gh30"><text x="842" y="569">Le, Van Truong</text></g>
</g>
<g id="c-hajto">
<circle cx="239" cy="871" r="4" fill="#7a6ff0"/><circle cx="210" cy="825" r="1.5" fill="#7a6ff0"/><circle cx="264" cy="849" r="1.5" fill="#7a6ff0"/><circle cx="202" cy="866" r="1.5" fill="#d9679a"/>
<g id="n-ha1"><text x="224" y="835">Baranyai, László Pál</text></g><g id="n-ha2"><text x="208" y="859">Kuzma, Mónika</text></g><g id="n-ha3"><text x="262" y="859">Horváth, Anna</text></g><g id="n-ha4"><text x="202" y="876">Kirsch, Angelika</text></g>
<g id="n-hajto"><text class="b" x="241" y="889" style="font-size:12px">Hajtó, Tibor</text></g><g id="n-ha5"><text x="296" y="893">Pál, Zsuzsanna</text></g>
</g>
<g id="c-hirakata"><g id="n-hk1"><text x="324" y="829">Hirakata, Naoki</text></g><g id="n-hk2"><text x="349" y="836">Kubo, Chiharu</text></g><g id="n-hk3"><text x="311" y="842">Kanna, Hideyuki</text></g><g id="n-hk4"><text x="355" y="859">Saito, Atsuyuki</text></g><g id="n-hk5"><text x="317" y="871">Taka, Hisashi</text></g><g id="n-hk6"><text x="336" y="878">Koyama, Naomi</text></g></g>
<g id="c-garbacz"><g id="n-ga1"><text x="398" y="761">Garbacz, József</text></g><g id="n-ga2"><text x="420" y="771">Nagy, Gabriella</text></g><g id="n-ga3"><text x="376" y="779">Hamuda, Gábor</text></g><g id="n-ga4"><text x="377" y="795">Máté, Ágota</text></g><g id="n-ga5"><text x="419" y="801">Bartfai, Gabriel</text></g><g id="n-ga6"><text x="402" y="810">Szigeti, Gyula</text></g></g>
<g id="c-chung"><g id="n-ch1"><text x="410" y="855">Chung, Yet</text></g><g id="n-ch2"><text x="388" y="873">Menduk, Jonas</text></g><g id="n-ch3"><text x="430" y="873">Hinton, Alicia</text></g><g id="n-ch4"><text x="402" y="887">Smith, Megan</text></g></g>
<g id="c-okamura"><circle cx="309" cy="904" r="0.9" fill="#777"/><circle cx="311" cy="923" r="0.9" fill="#777"/><g id="n-ok1"><text x="306" y="914">Okamura, Yasushi</text></g><g id="n-ok2"><text x="286" y="921">Ari, Sub Yasin</text></g><g id="n-ok3"><text x="302" y="933">Hanyuan, Julian</text></g><g id="n-ok4"><text x="362" y="916">Qureshi, Fizza Anique</text></g><g id="n-ok5"><text x="336" y="928">Shaikh, Rebecca</text></g><g id="n-ok6"><text x="356" y="941">Masood, Ahmad Ijaz</text></g></g>
<g id="c-klimo"><g id="n-kl1"><text x="431" y="915">Klimopoulos, J.</text></g><g id="n-kl2"><text x="405" y="924">Lawson, G.</text></g><g id="n-kl3"><text x="447" y="933">Reynolds, S. C.</text></g><g id="n-kl4"><text x="407" y="945">Thomas, P. M.</text></g><g id="n-kl5"><text x="434" y="952">McDermott, C.</text></g></g>
<g id="c-purple"><g id="n-pp1"><text x="561" y="781">Mitsunaga, Shinsuke</text></g><g id="n-pp2"><text x="581" y="789">Okuda, Hiroshi</text></g><g id="n-pp3"><text x="623" y="789">Kato, Satoshi</text></g><g id="n-pp4"><text x="526" y="807">Kawakami, Sachiko</text></g><g id="n-pp5"><text x="524" y="820">Okubo, Yoshio</text></g><g id="n-pp6"><text x="528" y="835">Otani, Yoko</text></g><g id="n-pp7"><text x="637" y="826">Takeuchi, Takahiro</text></g><g id="n-pp8"><text x="633" y="838">Morikawa, Takeshi</text></g><g id="n-pp9"><text x="627" y="849">Sakamoto, Manabu</text></g><g id="n-pp10"><text x="533" y="864">Tanaka, Shinya</text></g><g id="n-pp11"><text x="535" y="877">Kudo, Yuko</text></g><g id="n-pp12"><text x="606" y="878">Osaki, Takeshi</text></g><g id="n-pp13"><text x="543" y="886">Nishizawa, Yoichi</text></g><g id="n-pp14"><text x="604" y="886">Sugimoto, Hiroshi</text></g><g id="n-pp15"><text x="587" y="894">Nakano, Shingo</text></g></g>
<g id="c-lopez"><circle cx="756" cy="739" r="1.5" fill="#5a5ad0"/><circle cx="831" cy="688" r="1.3" fill="#5a5ad0"/><g id="n-lo1"><text x="775" y="672">Lopez-Ardaiz, Eduardo</text></g><g id="n-lo2"><text x="763" y="680">Hernández-Jiménez, Enrique</text></g><g id="n-lo3"><text x="807" y="686" style="font-size:5.5px">Pastor, Manuel Miguel</text></g><g id="n-lo4"><text x="823" y="691" style="font-size:5.5px">Vinagre, Jesús</text></g><g id="n-lo5"><text x="835" y="697" style="font-size:5.5px">de Salinas, Elías</text></g><g id="n-lo6"><text x="740" y="706">Díaz, Miguel Ángel</text></g><g id="n-lo7"><text x="737" y="718">Handgretinger, Rupert</text></g><g id="n-lo8"><text x="826" y="737">Zeljko, Petra</text></g><g id="n-lo9"><text x="817" y="746">Núñez, Fernando</text></g><g id="n-lo10"><text x="810" y="755">Fernández, Lucía</text></g><g id="n-lo11"><text x="756" y="748">Sallo, Naghan</text></g><g id="n-lo12"><text x="760" y="759">Pérez-Martínez, Antonio</text></g><g id="n-lo13"><text x="771" y="769">Martín, Inmaculada Genesis</text></g></g>
<g id="c-saso"><g id="n-sa1"><text x="731" y="840">Saso, Hansbard</text></g><g id="n-sa2"><text x="751" y="847">Mochizuki, Katsuke</text></g><g id="n-sa3"><text x="728" y="864">Takahara, Khachou</text></g></g>
</g>
</svg>
